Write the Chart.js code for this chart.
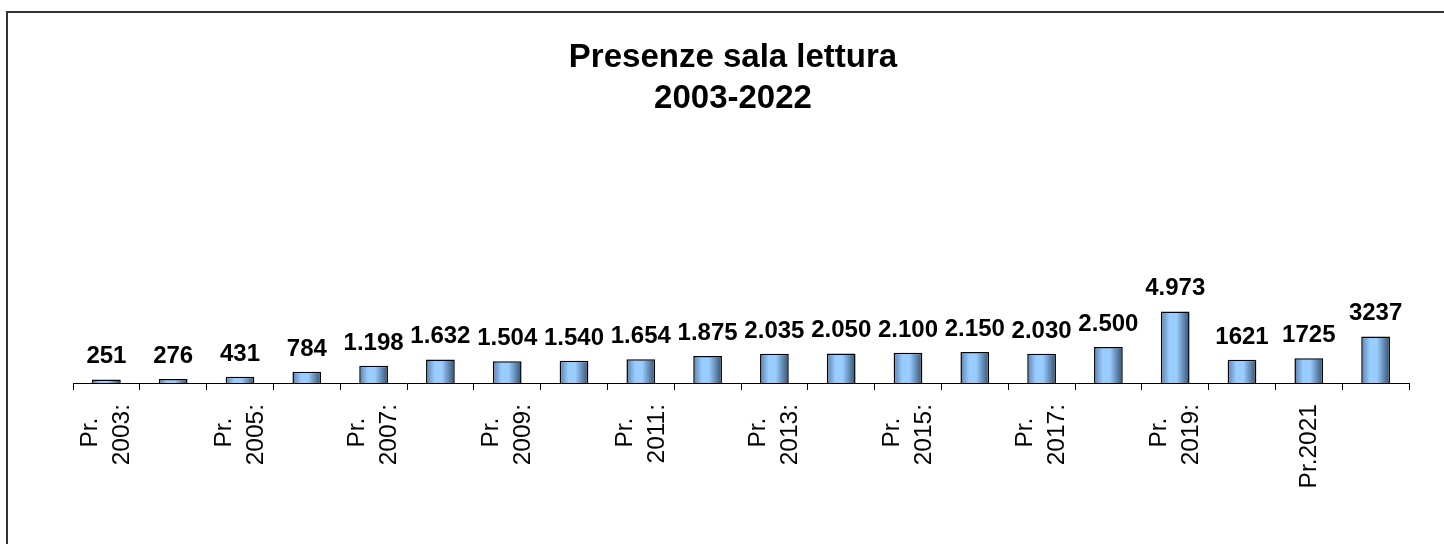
<!DOCTYPE html>
<html>
<head>
<meta charset="utf-8">
<script src="https://cdn.jsdelivr.net/npm/chart.js@4"></script>
<style>
  html, body { margin: 0; padding: 0; background: #ffffff; }
  #wrap { position: relative; width: 1444px; height: 544px; }
</style>
</head>
<body>
<div id="wrap"><canvas id="c" width="1444" height="544"></canvas></div>
<script>
// ---- Data ----
const titleLines = ['Presenze sala lettura', '2003-2022'];
const categories = ['Pr. 2003:', 'Pr. 2004:', 'Pr. 2005:', 'Pr. 2006:', 'Pr. 2007:', 'Pr. 2008:',
  'Pr. 2009:', 'Pr. 2010:', 'Pr. 2011:', 'Pr. 2012:', 'Pr. 2013:', 'Pr. 2014:', 'Pr. 2015:',
  'Pr. 2016:', 'Pr. 2017:', 'Pr. 2018:', 'Pr. 2019:', 'Pr. 2020:', 'Pr.2021', 'Pr.2022'];
const presenze = [251, 276, 431, 784, 1198, 1632, 1504, 1540, 1654, 1875, 2035, 2050, 2100,
  2150, 2030, 2500, 4973, 1621, 1725, 3237];
const valueLabels = ['251', '276', '431', '784', '1.198', '1.632', '1.504', '1.540', '1.654',
  '1.875', '2.035', '2.050', '2.100', '2.150', '2.030', '2.500', '4.973', '1621', '1725', '3237'];

const FONT = "'Liberation Sans', Arial, Helvetica, sans-serif";
const BAR_PCT = 0.43;

function barGradient(ctx) {
  const chart = ctx.chart;
  const xs = chart.scales && chart.scales.x;
  if (!xs || ctx.dataIndex === undefined) return '#99ccff';
  const cx = xs.getPixelForValue(ctx.dataIndex);
  const half = (xs.width / categories.length) * BAR_PCT / 2;
  if (!isFinite(cx) || !isFinite(half) || half <= 0) return '#99ccff';
  const g = chart.ctx.createLinearGradient(cx - half, 0, cx + half, 0);
  g.addColorStop(0, '#5a80aa');
  g.addColorStop(0.3, '#99ccff');
  g.addColorStop(0.55, '#99ccff');
  g.addColorStop(1, '#33506e');
  return g;
}

const framePlugin = {
  id: 'frame',
  beforeDraw(chart) {
    const c = chart.ctx;
    c.save();
    c.fillStyle = '#ffffff';
    c.fillRect(0, 0, chart.width, chart.height);
    c.strokeStyle = '#333333';
    c.lineWidth = 2;
    c.strokeRect(7, 12, chart.width + 20, chart.height + 20);
    c.restore();
  }
};

const valueLabelPlugin = {
  id: 'valueLabels',
  afterDatasetsDraw(chart) {
    const c = chart.ctx;
    const meta = chart.getDatasetMeta(0);
    c.save();
    c.font = 'bold 24px ' + FONT;
    c.fillStyle = '#000000';
    c.textAlign = 'center';
    c.textBaseline = 'alphabetic';
    meta.data.forEach((bar, i) => {
      c.fillText(valueLabels[i], bar.x, bar.y - 16);
    });
    c.restore();
  }
};

new Chart(document.getElementById('c'), {
  type: 'bar',
  data: {
    labels: categories,
    datasets: [{
      data: presenze,
      backgroundColor: barGradient,
      borderColor: '#000000',
      borderWidth: 1.5,
      borderSkipped: 'bottom',
      barPercentage: BAR_PCT,
      categoryPercentage: 1
    }]
  },
  options: {
    responsive: false,
    animation: false,
    layout: { padding: { left: 57, right: 35, top: 0, bottom: 0 } },
    plugins: {
      legend: { display: false },
      tooltip: { enabled: false },
      title: {
        display: true,
        text: titleLines,
        color: '#000000',
        font: { family: FONT, size: 33, weight: 'bold', lineHeight: 41 / 33 },
        padding: { top: 37, bottom: 12 }
      }
    },
    scales: {
      x: {
        offset: true,
        grid: {
          offset: true,
          drawOnChartArea: false,
          drawTicks: true,
          tickLength: 7,
          color: '#000000',
          lineWidth: 1
        },
        border: { display: true, color: '#000000', width: 1 },
        ticks: {
          autoSkip: false,
          minRotation: 90,
          maxRotation: 90,
          padding: 14,
          labelOffset: -16,
          color: '#000000',
          font: { family: FONT, size: 24.5, lineHeight: 16 / 24.5 },
          callback: function (value, index) {
            if (index % 2 === 1) return '';
            const lbl = categories[index];
            const sp = lbl.indexOf(' ');
            if (sp < 0) return ['', lbl];
            return [lbl.slice(0, sp) + '\u00a0\u00a0', '', lbl.slice(sp + 1)];
          }
        },
        afterFit: function (s) { s.height = 161; }
      },
      y: {
        min: 0,
        max: 17500,
        display: true,
        grid: { display: false },
        border: { display: false },
        ticks: { display: false },
        afterFit: function (s) { s.width = 16; }
      }
    }
  },
  plugins: [framePlugin, valueLabelPlugin]
});
</script>
</body>
</html>
